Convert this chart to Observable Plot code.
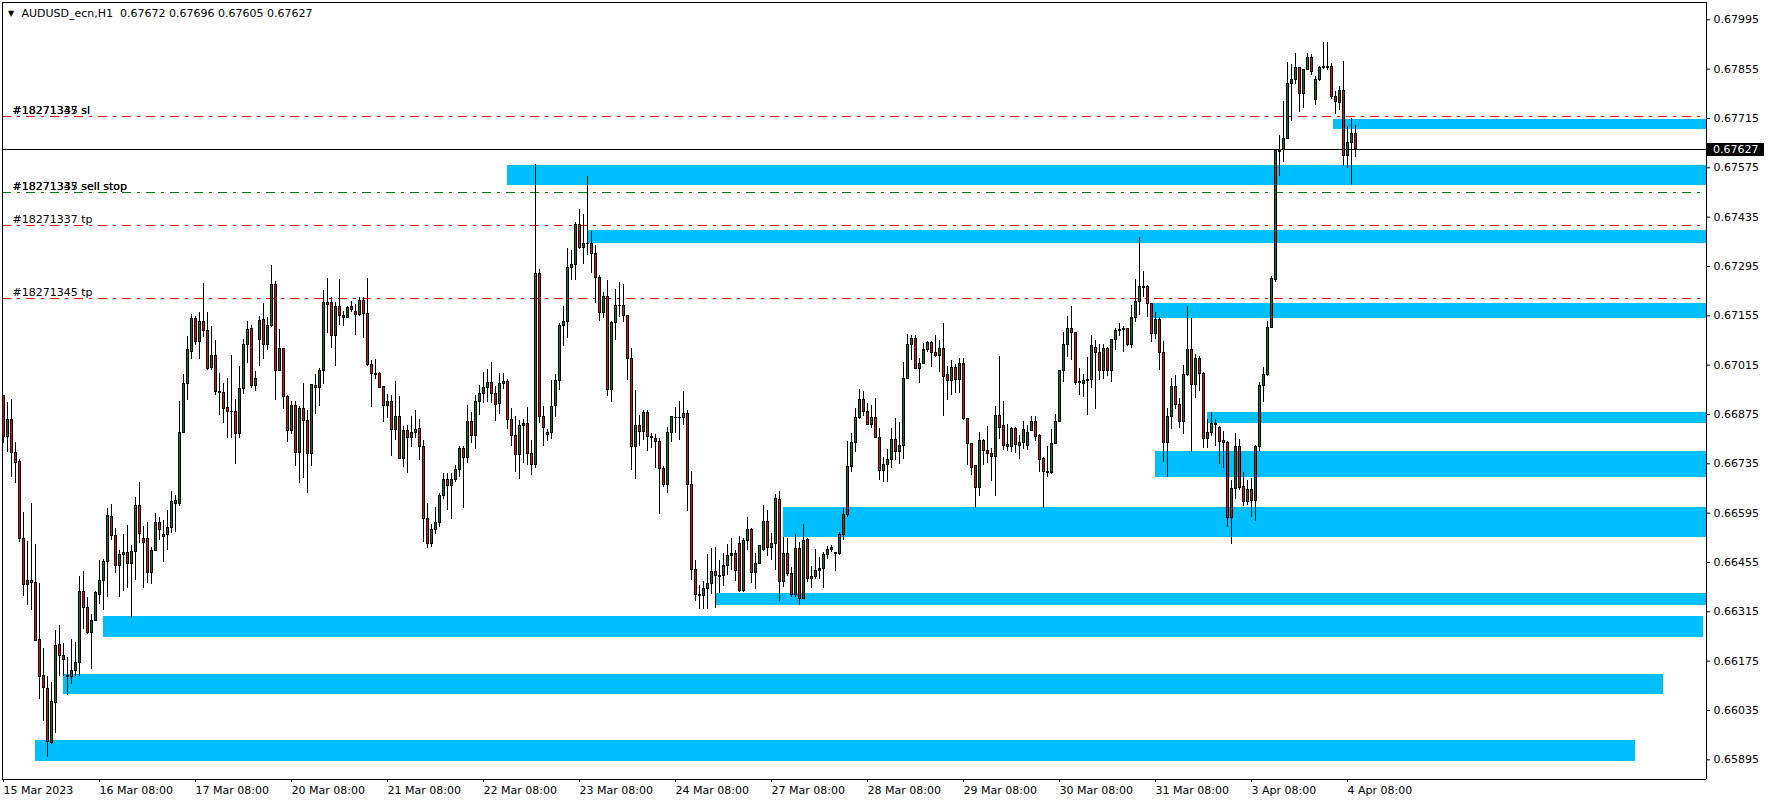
<!DOCTYPE html>
<html>
<head>
<meta charset="utf-8">
<script src="https://cdn.jsdelivr.net/npm/d3@7"></script>
<script src="https://cdn.jsdelivr.net/npm/@observablehq/plot@0.6"></script>
<style>
html,body{margin:0;padding:0;background:#fff;overflow:hidden;}
#chart svg{display:block;}
</style>
</head>
<body>
<div id="chart"></div>
<script>
// ---------- chart data (hourly candles, bar index 0 = 15 Mar 2023 08:00) ----------
const symbolTitle = "AUDUSD_ecn,H1";
const lastBar = [0.67672, 0.67696, 0.67605, 0.67627];
const bid = 0.67627;

const open = [
0.66926,0.66811,0.66858,0.66767,0.66739,0.66522,0.66392,0.66402,0.66396,0.66234,
0.66133,0.66096,0.65943,0.66056,0.66221,0.66190,0.66133,0.66130,0.66147,0.66170,
0.66370,0.66325,0.66254,0.66290,0.66363,0.66401,0.66455,0.66583,0.66531,0.66446,
0.66477,0.66482,0.66451,0.66486,0.66614,0.66522,0.66522,0.66426,0.66488,0.66568,
0.66534,0.66534,0.66554,0.66621,0.66621,0.66823,0.66962,0.67052,0.67145,0.67081,
0.67138,0.67113,0.67008,0.67041,0.66940,0.66936,0.66894,0.66881,0.66883,0.66819,
0.66946,0.67071,0.67118,0.66955,0.67086,0.67144,0.67071,0.67125,0.67243,0.66999,
0.67061,0.66925,0.66828,0.66899,0.66766,0.66891,0.66857,0.66762,0.66957,0.66950,
0.66999,0.67186,0.67190,0.67098,0.67181,0.67155,0.67150,0.67181,0.67167,0.67158,
0.67198,0.67160,0.67014,0.66990,0.66989,0.66952,0.66898,0.66909,0.66830,0.66868,
0.66749,0.66828,0.66808,0.66823,0.66834,0.66783,0.66579,0.66508,0.66547,0.66567,
0.66645,0.66689,0.66673,0.66690,0.66718,0.66778,0.66752,0.66854,0.66813,0.66909,
0.66932,0.66951,0.66965,0.66934,0.66906,0.66962,0.66968,0.66860,0.66815,0.66761,
0.66841,0.66847,0.66762,0.66731,0.67273,0.66868,0.66822,0.66822,0.66899,0.66969,
0.67125,0.67136,0.67290,0.67298,0.67412,0.67348,0.67360,0.67358,0.67331,0.67263,
0.67163,0.67207,0.66945,0.67135,0.67182,0.67184,0.67155,0.67032,0.66783,0.66843,
0.66825,0.66880,0.66811,0.66806,0.66797,0.66721,0.66676,0.66823,0.66864,0.66866,
0.66864,0.66877,0.66675,0.66434,0.66363,0.66360,0.66381,0.66395,0.66429,0.66414,
0.66418,0.66446,0.66472,0.66478,0.66506,0.66374,0.66516,0.66546,0.66425,0.66450,
0.66489,0.66571,0.66496,0.66508,0.66633,0.66399,0.66480,0.66421,0.66364,0.66494,
0.66352,0.66518,0.66409,0.66415,0.66432,0.66436,0.66477,0.66489,0.66482,0.66480,
0.66532,0.66589,0.66726,0.66795,0.66866,0.66915,0.66882,0.66845,0.66864,0.66808,
0.66714,0.66731,0.66747,0.66803,0.66768,0.66786,0.66976,0.67073,0.67090,0.67005,
0.67019,0.67057,0.67079,0.67050,0.67041,0.67060,0.66986,0.66970,0.67007,0.66972,
0.67017,0.66861,0.66791,0.66729,0.66666,0.66800,0.66772,0.66763,0.66754,0.66872,
0.66841,0.66787,0.66783,0.66835,0.66785,0.66795,0.66786,0.66829,0.66855,0.66814,
0.66748,0.66713,0.66709,0.66792,0.66855,0.66997,0.67071,0.67118,0.67107,0.66966,
0.66961,0.66970,0.66974,0.67065,0.67050,0.66998,0.67060,0.66998,0.67085,0.67111,
0.67114,0.67118,0.67073,0.67150,0.67193,0.67234,0.67237,0.67188,0.67104,0.67142,
0.67049,0.66795,0.66869,0.66952,0.66902,0.66854,0.66988,0.67058,0.66960,0.67031,
0.66990,0.66806,0.66821,0.66847,0.66837,0.66799,0.66795,0.66582,0.66664,0.66783,
0.66670,0.66627,0.66662,0.66630,0.66783,0.66955,0.66988,0.67121,0.67257,0.67620,
0.67625,0.67658,0.67813,0.67823,0.67858,0.67785,0.67852,0.67888,0.67768,0.67823,
0.67858,0.67860,0.67860,0.67777,0.67759,0.67792,0.67608,0.67646,0.67672];

const high = [
0.66930,0.66910,0.66917,0.66796,0.66747,0.66596,0.66515,0.66621,0.66505,0.66396,
0.66212,0.66131,0.66113,0.66262,0.66276,0.66224,0.66186,0.66235,0.66229,0.66415,
0.66429,0.66355,0.66307,0.66372,0.66461,0.66463,0.66607,0.66619,0.66551,0.66489,
0.66534,0.66560,0.66503,0.66640,0.66681,0.66558,0.66569,0.66498,0.66593,0.66584,
0.66574,0.66602,0.66656,0.66644,0.66913,0.66988,0.67096,0.67158,0.67153,0.67165,
0.67246,0.67165,0.67126,0.67085,0.66990,0.66964,0.66978,0.67042,0.66917,0.67011,
0.67088,0.67139,0.67127,0.66997,0.67153,0.67189,0.67151,0.67298,0.67252,0.67116,
0.67063,0.66929,0.66912,0.66912,0.66898,0.66964,0.66885,0.66961,0.66989,0.67006,
0.67228,0.67260,0.67207,0.67194,0.67258,0.67167,0.67182,0.67195,0.67186,0.67207,
0.67207,0.67261,0.67027,0.67031,0.66993,0.66955,0.66931,0.66929,0.66968,0.66927,
0.66840,0.66844,0.66868,0.66886,0.66862,0.66801,0.66621,0.66564,0.66611,0.66652,
0.66707,0.66707,0.66707,0.66730,0.66785,0.66785,0.66900,0.66881,0.66928,0.66957,
0.66995,0.67002,0.67023,0.66953,0.66991,0.66991,0.66974,0.66891,0.66870,0.66858,
0.66860,0.66896,0.66802,0.67585,0.67287,0.66898,0.66832,0.66970,0.66989,0.67133,
0.67180,0.67347,0.67341,0.67420,0.67457,0.67443,0.67551,0.67395,0.67355,0.67270,
0.67222,0.67254,0.67138,0.67229,0.67249,0.67244,0.67157,0.67062,0.66943,0.66873,
0.66887,0.66887,0.66820,0.66819,0.66806,0.66726,0.66839,0.66870,0.66894,0.66913,
0.66941,0.66885,0.66713,0.66461,0.66390,0.66401,0.66478,0.66494,0.66497,0.66461,
0.66480,0.66506,0.66522,0.66489,0.66529,0.66522,0.66584,0.66551,0.66480,0.66504,
0.66617,0.66603,0.66537,0.66648,0.66656,0.66525,0.66522,0.66442,0.66535,0.66513,
0.66563,0.66522,0.66444,0.66491,0.66470,0.66482,0.66501,0.66502,0.66482,0.66539,
0.66608,0.66797,0.66820,0.66891,0.66945,0.66941,0.66906,0.66901,0.66921,0.66835,
0.66754,0.66775,0.66836,0.66863,0.66852,0.67022,0.67101,0.67098,0.67098,0.67033,
0.67076,0.67082,0.67082,0.67098,0.67085,0.67132,0.67012,0.67029,0.67016,0.67033,
0.67035,0.66863,0.66793,0.66731,0.66823,0.66804,0.66842,0.66778,0.66898,0.67040,
0.66912,0.66846,0.66837,0.66839,0.66814,0.66854,0.66844,0.66868,0.66870,0.66818,
0.66754,0.66785,0.66833,0.66875,0.67000,0.67109,0.67153,0.67182,0.67107,0.67005,
0.66988,0.67036,0.67099,0.67085,0.67073,0.67073,0.67064,0.67088,0.67120,0.67132,
0.67125,0.67120,0.67183,0.67257,0.67378,0.67281,0.67240,0.67188,0.67164,0.67150,
0.67082,0.66892,0.66977,0.66986,0.66921,0.67013,0.67180,0.67148,0.67044,0.67039,
0.66994,0.66862,0.66881,0.66862,0.66841,0.66828,0.66797,0.66689,0.66821,0.66804,
0.66710,0.66689,0.66694,0.66787,0.66967,0.67008,0.67138,0.67267,0.67624,0.67666,
0.67762,0.67874,0.67869,0.67898,0.67860,0.67855,0.67898,0.67896,0.67835,0.67862,
0.67930,0.67930,0.67871,0.67792,0.67807,0.67877,0.67692,0.67716,0.67696];

const low = [
0.66794,0.66768,0.66695,0.66680,0.66513,0.66359,0.66333,0.66319,0.66231,0.66067,
0.66004,0.65902,0.65938,0.65971,0.66132,0.66131,0.66077,0.66109,0.66131,0.66131,
0.66264,0.66252,0.66150,0.66288,0.66336,0.66319,0.66357,0.66516,0.66425,0.66355,
0.66374,0.66380,0.66295,0.66404,0.66508,0.66382,0.66396,0.66393,0.66486,0.66517,
0.66456,0.66489,0.66536,0.66539,0.66615,0.66820,0.66915,0.67030,0.67071,0.67030,
0.67094,0.67000,0.67000,0.66930,0.66872,0.66849,0.66806,0.66808,0.66734,0.66806,
0.66931,0.67021,0.66950,0.66941,0.67012,0.67031,0.67056,0.67123,0.66915,0.66997,
0.66889,0.66796,0.66817,0.66726,0.66680,0.66692,0.66652,0.66728,0.66876,0.66898,
0.66959,0.67104,0.67063,0.67012,0.67127,0.67125,0.67148,0.67163,0.67099,0.67154,
0.67090,0.67012,0.66895,0.66974,0.66948,0.66853,0.66864,0.66757,0.66801,0.66747,
0.66724,0.66708,0.66782,0.66808,0.66744,0.66512,0.66494,0.66498,0.66535,0.66555,
0.66635,0.66602,0.66576,0.66682,0.66696,0.66608,0.66737,0.66792,0.66775,0.66873,
0.66906,0.66910,0.66906,0.66854,0.66875,0.66945,0.66832,0.66783,0.66709,0.66690,
0.66737,0.66731,0.66702,0.66721,0.66849,0.66783,0.66797,0.66803,0.66866,0.66943,
0.67069,0.67091,0.67256,0.67256,0.67343,0.67301,0.67326,0.67275,0.67191,0.67140,
0.67147,0.66925,0.66908,0.67084,0.67150,0.67135,0.66970,0.66715,0.66690,0.66785,
0.66800,0.66769,0.66778,0.66723,0.66591,0.66669,0.66652,0.66796,0.66820,0.66800,
0.66844,0.66601,0.66404,0.66345,0.66321,0.66321,0.66321,0.66364,0.66324,0.66368,
0.66387,0.66418,0.66432,0.66402,0.66371,0.66371,0.66489,0.66395,0.66378,0.66448,
0.66487,0.66472,0.66461,0.66431,0.66345,0.66385,0.66415,0.66357,0.66357,0.66333,
0.66349,0.66397,0.66381,0.66408,0.66406,0.66381,0.66463,0.66482,0.66428,0.66475,
0.66518,0.66584,0.66709,0.66766,0.66862,0.66868,0.66844,0.66834,0.66806,0.66688,
0.66683,0.66683,0.66721,0.66745,0.66733,0.66748,0.66974,0.67028,0.67003,0.66962,
0.67016,0.67052,0.67007,0.67038,0.66995,0.66868,0.66915,0.66929,0.66934,0.66934,
0.66858,0.66730,0.66702,0.66609,0.66643,0.66729,0.66735,0.66685,0.66643,0.66804,
0.66772,0.66771,0.66766,0.66765,0.66748,0.66776,0.66773,0.66827,0.66797,0.66710,
0.66609,0.66695,0.66706,0.66789,0.66853,0.66965,0.67038,0.67028,0.66958,0.66929,
0.66924,0.66872,0.66948,0.66888,0.66970,0.66975,0.66984,0.66965,0.67057,0.67095,
0.67052,0.67069,0.67063,0.67135,0.67157,0.67207,0.67150,0.67080,0.67087,0.67001,
0.66739,0.66697,0.66833,0.66890,0.66835,0.66818,0.66984,0.66766,0.66921,0.66940,
0.66779,0.66779,0.66812,0.66785,0.66732,0.66723,0.66553,0.66505,0.66633,0.66660,
0.66614,0.66617,0.66584,0.66572,0.66771,0.66910,0.66982,0.67119,0.67250,0.67551,
0.67589,0.67656,0.67706,0.67810,0.67733,0.67744,0.67850,0.67838,0.67752,0.67821,
0.67855,0.67850,0.67768,0.67727,0.67737,0.67579,0.67572,0.67526,0.67605];

const close = [
0.66812,0.66858,0.66765,0.66738,0.66522,0.66392,0.66402,0.66396,0.66233,0.66130,
0.66098,0.65945,0.66060,0.66219,0.66190,0.66179,0.66131,0.66147,0.66170,0.66370,
0.66325,0.66254,0.66290,0.66368,0.66401,0.66455,0.66586,0.66531,0.66446,0.66477,
0.66482,0.66451,0.66486,0.66614,0.66536,0.66510,0.66426,0.66488,0.66568,0.66548,
0.66527,0.66554,0.66627,0.66629,0.66823,0.66962,0.67057,0.67145,0.67081,0.67138,
0.67113,0.67004,0.67041,0.66940,0.66936,0.66891,0.66881,0.66883,0.66819,0.66946,
0.67071,0.67116,0.66955,0.66976,0.67141,0.67071,0.67125,0.67243,0.66999,0.67061,
0.66925,0.66828,0.66899,0.66766,0.66891,0.66857,0.66762,0.66959,0.66950,0.66999,
0.67190,0.67190,0.67098,0.67181,0.67155,0.67148,0.67178,0.67172,0.67158,0.67198,
0.67160,0.67014,0.66990,0.66988,0.66950,0.66898,0.66909,0.66830,0.66868,0.66749,
0.66828,0.66808,0.66823,0.66832,0.66783,0.66579,0.66508,0.66547,0.66567,0.66645,
0.66689,0.66673,0.66690,0.66718,0.66778,0.66752,0.66854,0.66813,0.66909,0.66932,
0.66951,0.66965,0.66934,0.66903,0.66962,0.66968,0.66860,0.66815,0.66761,0.66841,
0.66847,0.66762,0.66731,0.67273,0.66868,0.66838,0.66818,0.66896,0.66969,0.67125,
0.67136,0.67290,0.67298,0.67412,0.67348,0.67360,0.67358,0.67331,0.67263,0.67163,
0.67207,0.66945,0.67135,0.67182,0.67184,0.67155,0.67032,0.66783,0.66843,0.66825,
0.66880,0.66811,0.66808,0.66797,0.66721,0.66676,0.66823,0.66868,0.66866,0.66864,
0.66877,0.66675,0.66434,0.66362,0.66360,0.66381,0.66395,0.66429,0.66416,0.66418,
0.66446,0.66472,0.66478,0.66431,0.66374,0.66516,0.66546,0.66425,0.66450,0.66501,
0.66571,0.66496,0.66508,0.66636,0.66399,0.66480,0.66421,0.66364,0.66494,0.66352,
0.66515,0.66409,0.66415,0.66432,0.66436,0.66477,0.66489,0.66495,0.66480,0.66532,
0.66589,0.66726,0.66795,0.66866,0.66915,0.66882,0.66845,0.66864,0.66808,0.66714,
0.66731,0.66747,0.66803,0.66768,0.66786,0.66976,0.67073,0.67088,0.67005,0.67019,
0.67057,0.67079,0.67050,0.67041,0.67060,0.66981,0.66970,0.67007,0.66972,0.67017,
0.66861,0.66791,0.66723,0.66666,0.66800,0.66772,0.66763,0.66754,0.66872,0.66837,
0.66785,0.66783,0.66835,0.66787,0.66795,0.66832,0.66823,0.66855,0.66811,0.66746,
0.66712,0.66709,0.66792,0.66855,0.66997,0.67071,0.67118,0.67107,0.66964,0.66963,
0.66971,0.66974,0.67068,0.67050,0.66998,0.67060,0.66998,0.67085,0.67111,0.67116,
0.67118,0.67071,0.67150,0.67193,0.67236,0.67237,0.67188,0.67104,0.67142,0.67049,
0.66795,0.66869,0.66952,0.66902,0.66854,0.66988,0.67058,0.66960,0.67032,0.66990,
0.66806,0.66821,0.66847,0.66845,0.66797,0.66793,0.66582,0.66664,0.66783,0.66665,
0.66627,0.66662,0.66630,0.66783,0.66955,0.66988,0.67121,0.67260,0.67622,0.67625,
0.67658,0.67813,0.67823,0.67858,0.67785,0.67852,0.67888,0.67848,0.67823,0.67858,
0.67860,0.67858,0.67777,0.67762,0.67792,0.67608,0.67646,0.67671,0.67627];

// time axis labels (bar index of each label)
const xTickIdx = [0,24,48,72,96,120,144,168,192,216,240,264,288,312,336];
const xTickLabels = ["15 Mar 2023","16 Mar 08:00","17 Mar 08:00","20 Mar 08:00","21 Mar 08:00",
  "22 Mar 08:00","23 Mar 08:00","24 Mar 08:00","27 Mar 08:00","28 Mar 08:00","29 Mar 08:00",
  "30 Mar 08:00","31 Mar 08:00","3 Apr 08:00","4 Apr 08:00"];
// price axis labels
const yTicks = [0.67995,0.67855,0.67715,0.67575,0.67435,0.67295,0.67155,0.67015,
  0.66875,0.66735,0.66595,0.66455,0.66315,0.66175,0.66035,0.65895];

// supply / demand zones (rectangle objects): start/end bar, top/bottom price
const zoneStart  = [332.5, 126, 146, 287, 301, 288, 195, 178, 25, 15, 8];
const zoneEnd    = [440, 440, 440, 440, 440, 440, 440, 440, 425, 415, 408];
const zoneTop    = [0.67713,0.67582,0.67397,0.67191,0.66881,0.66770,0.66611,0.66368,0.66302,0.66137,0.65950];
const zoneBottom = [0.67685,0.67524,0.67361,0.67148,0.66850,0.66697,0.66527,0.66334,0.66243,0.66079,0.65891];

// pending order levels
const orderText  = ["#18271345 sl","#18271337 sl","#18271345 sell stop","#18271337 sell stop","#18271337 tp","#18271345 tp"];
const orderPrice = [0.67720,0.67720,0.67504,0.67504,0.67411,0.67203];
const orderColor = ["#ff0000","#ff0000","#008000","#008000","#ff0000","#ff0000"];

// visible window
const xDomain = [-0.25, 425.75];
const yDomain = [0.658391, 0.680441];

// ---------- drawing ----------
const f5 = d3.format(".5f");
const bars = d3.range(open.length);
const zones = d3.range(zoneStart.length);
const orders = d3.range(orderText.length);
const labelOf = new Map(xTickIdx.map((v, i) => [v, xTickLabels[i]]));
const bull = "#008000", bear = "#ff0000", zoneFill = "#00bfff";
const FONT = "DejaVu Sans, Verdana, sans-serif";

const bidLabel = (index, scales, values, dimensions) => {
  const y = Math.round(scales.y(bid));
  const x0 = dimensions.width - dimensions.marginRight;
  const g = d3.create("svg:g");
  g.append("rect").attr("x", x0 + 1).attr("y", y - 6).attr("width", 57).attr("height", 13).attr("fill", "black");
  g.append("text").attr("x", x0 + 7).attr("y", y + 0.5).attr("dy", "0.32em").attr("text-anchor", "start")
    .attr("fill", "white").attr("font-size", 11).attr("font-family", FONT).text(f5(bid));
  return g.node();
};

const chart = Plot.plot({
  width: 1770,
  height: 803,
  marginLeft: 2,
  marginRight: 64,
  marginTop: 2,
  marginBottom: 24,
  x: {type: "linear", domain: xDomain},
  y: {type: "linear", domain: yDomain},
  style: {fontFamily: FONT, fontSize: "11px", color: "black", background: "white", overflow: "visible"},
  marks: [
    Plot.rect(zones, {x1: i => zoneStart[i], x2: i => zoneEnd[i], y1: i => zoneBottom[i], y2: i => zoneTop[i],
      fill: zoneFill, clip: true, shapeRendering: "crispEdges"}),
    Plot.ruleY(orders, {y: i => orderPrice[i], stroke: i => orderColor[i], strokeDasharray: "9,6,3,6",
      shapeRendering: "crispEdges"}),
    Plot.ruleY([bid], {stroke: "black", shapeRendering: "crispEdges"}),
    Plot.ruleX(bars, {x: i => i, y1: i => low[i], y2: i => high[i], stroke: "black", shapeRendering: "crispEdges"}),
    Plot.rect(bars, {x1: i => i - 0.25, x2: i => i + 0.25, y1: i => open[i], y2: i => close[i],
      fill: i => (close[i] >= open[i] ? bull : bear), stroke: "black", strokeWidth: 1, dx: 0.5,
      shapeRendering: "crispEdges"}),
    Plot.text(orders, {y: i => orderPrice[i], text: i => orderText[i], frameAnchor: "left", dx: 10, dy: -6,
      textAnchor: "start", lineAnchor: "middle", fill: "black", fontSize: 11}),
    Plot.ruleX(xDomain, {stroke: "black", shapeRendering: "crispEdges"}),
    Plot.ruleY(yDomain, {stroke: "black", shapeRendering: "crispEdges"}),
    Plot.text([`${symbolTitle}\u00a0 ${lastBar.map(f5).join(" ")}`], {frameAnchor: "top-left", dx: 19, dy: 7,
      textAnchor: "start", lineAnchor: "top", fill: "black", fontSize: 11}),
    Plot.text(["\u25bc"], {frameAnchor: "top-left", dx: 8.5, dy: 8, textAnchor: "middle", lineAnchor: "top",
      fill: "black", fontSize: 8}),
    Plot.axisY(yTicks, {anchor: "right", tickSize: 3, tickPadding: 4, tickFormat: f5, label: null, fontSize: 11}),
    Plot.axisX(xTickIdx, {anchor: "bottom", tickSize: 3, tickPadding: 4, tickFormat: d => labelOf.get(d),
      textAnchor: "start", label: null, fontSize: 11}),
    bidLabel
  ]
});
document.getElementById("chart").appendChild(chart);
</script>
</body>
</html>
